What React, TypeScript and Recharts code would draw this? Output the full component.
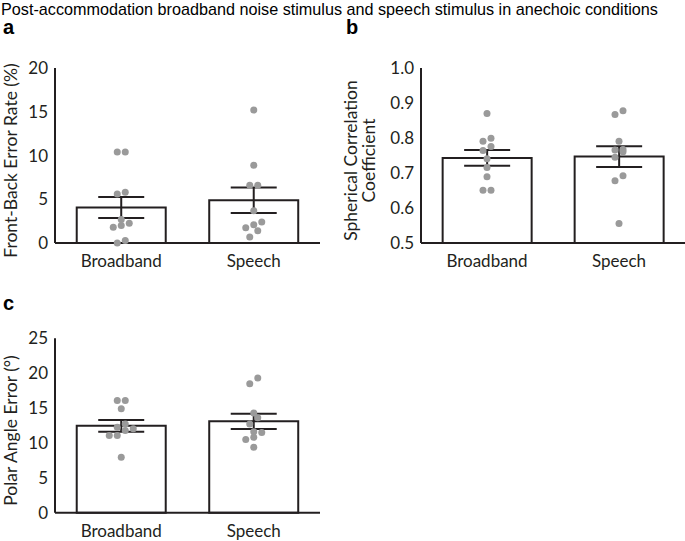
import React from 'react';
import { ComposedChart, Bar, ErrorBar, Scatter, XAxis, YAxis, Label } from 'recharts';

const categories = ['Broadband', 'Speech'];

// a: front-back error rate (%)
const frontBackMean = [4.05, 4.88];
const frontBackSem = [1.2, 1.45];
const frontBackBroadband = [10.4, 10.4, 5.6, 5.8, 2.7, 2.0, 1.8, 2.25, 0, 0.3];
const frontBackSpeech = [15.2, 8.9, 6.6, 6.6, 3.7, 2.1, 2.4, 1.75, 1.4, 0.7];

// b: spherical correlation coefficient
const corrMean = [0.743, 0.747];
const corrSem = [0.0225, 0.0295];
const corrBroadband = [0.87, 0.799, 0.791, 0.776, 0.764, 0.741, 0.716, 0.689, 0.651, 0.651];
const corrSpeech = [0.878, 0.867, 0.791, 0.766, 0.767, 0.761, 0.745, 0.692, 0.678, 0.556];

// c: polar angle error (deg)
const polarMean = [12.45, 13.1];
const polarSem = [0.85, 1.1];
const polarBroadband = [16.1, 16.1, 14.9, 12.05, 12.25, 12.7, 11.8, 11.05, 11.05, 7.95];
const polarSpeech = [19.3, 18.5, 14.3, 13.6, 12.7, 11.5, 11.6, 10.8, 10.5, 9.4];

const ink = '#231f20';
const dotColor = '#9a9a9a';
const tickFont = { fill: ink, fontSize: 17, fontFamily: 'Lato, sans-serif' };

// spread points that sit at nearly the same height sideways (8px steps)
function swarm(values: number[], span: number, plotH: number) {
  const gap = (span * 7) / plotH;
  const order = values.map((v, i) => i).sort((a, b) => values[a] - values[b]);
  const dx = new Array(values.length).fill(0);
  let group: number[] = [];
  const flush = () => {
    group.forEach((idx, k) => (dx[idx] = (k - (group.length - 1) / 2) * 8));
    group = [];
  };
  order.forEach((idx) => {
    if (group.length && values[idx] - values[group[0]] >= gap) flush();
    group.push(idx);
  });
  flush();
  return dx;
}

function buildRows(means: number[], sems: number[], points: number[][], span: number, plotH: number) {
  return categories.map((cat, i) => {
    const row: any = { cat, mean: means[i], sem: sems[i] };
    const dx = swarm(points[i], span, plotH);
    points[i].forEach((v, k) => {
      row['p' + k] = v;
      row['dx' + k] = dx[k];
    });
    return row;
  });
}

const rowsA = buildRows(frontBackMean, frontBackSem, [frontBackBroadband, frontBackSpeech], 20, 175);
const rowsB = buildRows(corrMean, corrSem, [corrBroadband, corrSpeech], 0.5, 175);
const rowsC = buildRows(polarMean, polarSem, [polarBroadband, polarSpeech], 25, 174.4);

const pointKeys = frontBackBroadband.map((_, k) => k);

function Panel(props: any) {
  const { rows, domain, ticks, fmt, lines, width, height, margin, yWidth, xHeight, labelDx } = props;
  return (
    <ComposedChart width={width} height={height} data={rows} margin={margin} barCategoryGap="16.4%">
      <Bar dataKey="mean" fill="none" stroke={ink} strokeWidth={2} isAnimationActive={false}>
        <ErrorBar dataKey="sem" width={23} stroke={ink} strokeWidth={2} />
      </Bar>
      {pointKeys.map((k) => (
        <Scatter
          key={k}
          dataKey={'p' + k}
          isAnimationActive={false}
          shape={(p: any) => <circle cx={p.cx + p.payload['dx' + k]} cy={p.cy} r={3.5} fill={dotColor} />}
        />
      ))}
      <XAxis
        dataKey="cat"
        tickLine={false}
        tickSize={0}
        tickMargin={12}
        height={xHeight}
        axisLine={{ stroke: ink, strokeWidth: 2 }}
        tick={tickFont}
      />
      <YAxis
        type="number"
        domain={domain}
        ticks={ticks}
        tickFormatter={fmt}
        interval={0}
        tickLine={false}
        tickSize={0}
        tickMargin={7}
        width={yWidth}
        axisLine={{ stroke: ink, strokeWidth: 2 }}
        tick={tickFont}
      >
        <Label
          content={({ viewBox }: any) => {
            const cy = viewBox.y + viewBox.height / 2 + 5;
            return (
              <g>
                {lines.map((t: string, i: number) => {
                  const x = viewBox.x + labelDx + i * 18;
                  return (
                    <text
                      key={i}
                      x={x}
                      y={cy}
                      transform={`rotate(-90 ${x} ${cy})`}
                      textAnchor="middle"
                      dominantBaseline="central"
                      fill={ink}
                      fontSize={17.5}
                      fontFamily="Lato, sans-serif"
                    >
                      {t}
                    </text>
                  );
                })}
              </g>
            );
          }}
        />
      </YAxis>
    </ComposedChart>
  );
}

export default function App() {
  return (
    <div style={{ position: 'absolute', left: 0, top: 0, width: 685, height: 541, overflow: 'hidden', background: '#fff' }}>
      <div style={{ position: 'absolute', left: 0, top: 0 }}>
        <Panel
          rows={rowsA}
          domain={[0, 20]}
          ticks={[0, 5, 10, 15, 20]}
          fmt={(v: number) => String(v)}
          lines={['Front-Back Error Rate (%)']}
          labelDx={10}
          width={330}
          height={290}
          margin={{ top: 68, right: 10, bottom: 7, left: 0 }}
          yWidth={55}
          xHeight={40}
        />
      </div>
      <div style={{ position: 'absolute', left: 340, top: 0 }}>
        <Panel
          rows={rowsB}
          domain={[0.5, 1.0]}
          ticks={[0.5, 0.6, 0.7, 0.8, 0.9, 1.0]}
          fmt={(v: number) => v.toFixed(1)}
          lines={['Spherical Correlation', 'Coefficient']}
          labelDx={10}
          width={345}
          height={290}
          margin={{ top: 68, right: 0, bottom: 7, left: 0 }}
          yWidth={81}
          xHeight={40}
        />
      </div>
      <div style={{ position: 'absolute', left: 0, top: 270 }}>
        <Panel
          rows={rowsC}
          domain={[0, 25]}
          ticks={[0, 5, 10, 15, 20, 25]}
          fmt={(v: number) => String(v)}
          lines={['Polar Angle Error (°)']}
          labelDx={10}
          width={330}
          height={271}
          margin={{ top: 68.3, right: 10, bottom: 0.3, left: 0 }}
          yWidth={55}
          xHeight={28}
        />
      </div>
      <svg width={685} height={541} style={{ position: 'absolute', left: 0, top: 0, pointerEvents: 'none' }}>
        <text x={1} y={15} fontSize={16.2} fontFamily="'Liberation Sans', Arial, sans-serif" fill="#000">
          Post-accommodation broadband noise stimulus and speech stimulus in anechoic conditions
        </text>
        <text x={3} y={34} fontSize={20} fontWeight="bold" fontFamily="'Liberation Sans', Arial, sans-serif" fill="#000">a</text>
        <text x={346} y={34} fontSize={20} fontWeight="bold" fontFamily="'Liberation Sans', Arial, sans-serif" fill="#000">b</text>
        <text x={3} y={309.5} fontSize={20} fontWeight="bold" fontFamily="'Liberation Sans', Arial, sans-serif" fill="#000">c</text>
      </svg>
    </div>
  );
}
